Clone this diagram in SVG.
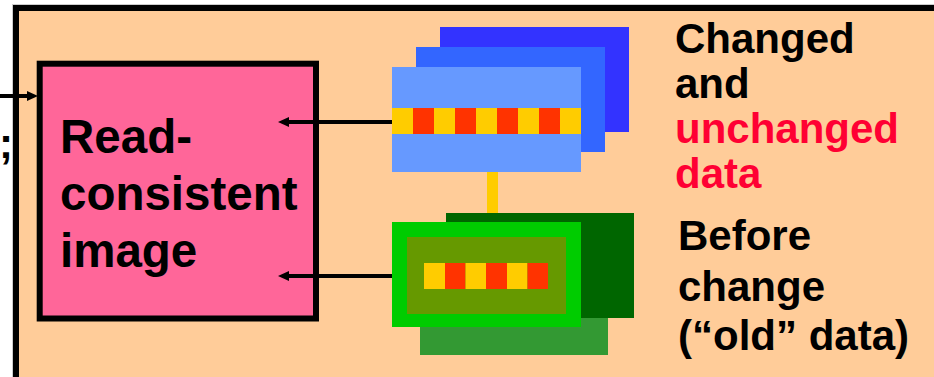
<svg xmlns="http://www.w3.org/2000/svg" width="934" height="377" viewBox="0 0 934 377">
  <style>
    .t { font-family: "Liberation Sans", Arial, sans-serif; font-weight: bold; }
    .big { font-size: 47.5px; fill: #000; }
    .lbl { font-size: 42px; fill: #000; }
    .red { fill: #FF0033; }
    .yl { fill: #FFCC00; }
    .rd { fill: #FF3300; }
    .conn { stroke: #000; stroke-width: 4; fill: none; }
  </style>
  <defs>
    <marker id="ah" markerUnits="userSpaceOnUse" markerWidth="11" markerHeight="10" refX="4" refY="5" orient="auto">
      <path d="M0,0 L11,5 L0,10 z" fill="#000"/>
    </marker>
  </defs>
  <rect width="934" height="377" fill="#FFFFFF"/>

  <g id="frame">
    <rect x="12.5" y="4.5" width="940" height="400" fill="none" stroke="#CCCCCC" stroke-width="1"/>
    <rect x="16" y="8" width="940" height="400" fill="#FFCC99" stroke="#000" stroke-width="6"/>
  </g>

  <text class="t lbl" x="-1" y="158">;</text>

  <g id="connectors">
    <rect x="487" y="170" width="11" height="54" fill="#FFCC00"/>
  </g>

  <g id="read-consistent-image">
    <rect x="39.7" y="63.7" width="276.3" height="254.8" fill="#FF6699" stroke="#000" stroke-width="6"/>
    <text class="t big" x="60" y="153">Read-</text>
    <text class="t big" x="60" y="210">consistent</text>
    <text class="t big" x="60" y="267">image</text>
  </g>

  <g id="changed-blocks">
    <rect x="440" y="27" width="189" height="105" fill="#3333FF"/>
    <rect x="416" y="47" width="189" height="105" fill="#3366FF"/>
    <rect x="392" y="67" width="189" height="105" fill="#6699FF"/>
    <rect class="yl" x="392" y="108" width="21" height="26"/>
    <rect class="rd" x="413" y="108" width="21" height="26"/>
    <rect class="yl" x="434" y="108" width="21" height="26"/>
    <rect class="rd" x="455" y="108" width="21" height="26"/>
    <rect class="yl" x="476" y="108" width="21" height="26"/>
    <rect class="rd" x="497" y="108" width="21" height="26"/>
    <rect class="yl" x="518" y="108" width="21" height="26"/>
    <rect class="rd" x="539" y="108" width="21" height="26"/>
    <rect class="yl" x="560" y="108" width="21" height="26"/>
  </g>

  <g id="before-change-blocks">
    <rect x="420" y="250" width="188" height="105" fill="#339933"/>
    <rect x="446" y="213" width="188" height="105" fill="#006600"/>
    <rect x="392" y="222" width="189" height="105" fill="#00CC00"/>
    <rect x="407" y="237" width="159" height="77" fill="#669900"/>
    <rect class="yl" x="424" y="263" width="21" height="26"/>
    <rect class="rd" x="445" y="263" width="20.5" height="26"/>
    <rect class="yl" x="465.5" y="263" width="20.5" height="26"/>
    <rect class="rd" x="486" y="263" width="21" height="26"/>
    <rect class="yl" x="507" y="263" width="20.5" height="26"/>
    <rect class="rd" x="527.5" y="263" width="20.5" height="26"/>
  </g>

  <g id="arrows">
    <line class="conn" x1="0" y1="96" x2="31" y2="96" marker-end="url(#ah)"/>
    <line class="conn" x1="392" y1="122" x2="285" y2="122" marker-end="url(#ah)"/>
    <line class="conn" x1="392" y1="276" x2="285" y2="276" marker-end="url(#ah)"/>
  </g>

  <g id="label-changed">
    <text class="t lbl" x="675" y="53">Changed</text>
    <text class="t lbl" x="675" y="98">and</text>
    <text class="t lbl red" x="675" y="143">unchanged</text>
    <text class="t lbl red" x="675" y="188">data</text>
  </g>

  <g id="label-before">
    <text class="t lbl" x="678" y="250">Before</text>
    <text class="t lbl" x="678" y="301">change</text>
    <text class="t lbl" x="678" y="350">(“old” data)</text>
  </g>
</svg>
